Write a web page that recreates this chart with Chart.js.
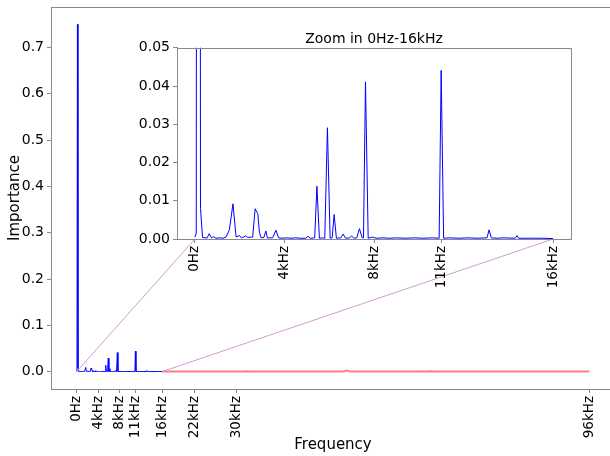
<!DOCTYPE html>
<html>
<head>
<meta charset="utf-8">
<script src="https://cdn.jsdelivr.net/npm/chart.js@4"></script>
<style>
  html, body { margin: 0; padding: 0; background: #fff; overflow: hidden; }
  #wrap { position: relative; width: 610px; height: 456px; overflow: hidden; }
  #wrap canvas { position: absolute; left: 0; top: 0; }
</style>
</head>
<body>
<div id="wrap">
  <canvas id="main" width="615" height="456"></canvas>
  <canvas id="inset" width="610" height="456"></canvas>
</div>
<script>
'use strict';

// ── Data ─────────────────────────────────────────────────────────────────────
// 0–16 kHz band (blue), frequency in kHz
const LOW_KHZ = [
  0.00, 0.06, 0.15, 0.25, 0.34, 0.45, 0.55, 0.64, 0.74, 0.84, 0.94, 1.10, 1.25, 1.39, 1.54, 1.70,
  1.84, 1.99, 2.07, 2.14, 2.26, 2.36, 2.50, 2.58, 2.69, 2.81, 2.88, 2.96, 3.08, 3.17, 3.24, 3.36,
  3.47, 3.62, 3.74, 3.90, 4.10, 4.30, 4.50, 4.70, 4.95, 5.05, 5.15, 5.35, 5.45, 5.56, 5.70, 5.80,
  5.92, 6.04, 6.13, 6.22, 6.32, 6.52, 6.62, 6.73, 6.90, 7.00, 7.10, 7.23, 7.35, 7.47, 7.53, 7.62,
  7.74, 7.94, 8.10, 8.40, 8.70, 9.00, 9.40, 9.80, 10.20, 10.60, 10.91, 11.00, 11.11, 11.40, 11.80, 12.20,
  12.60, 13.05, 13.14, 13.24, 13.50, 13.80, 14.31, 14.39, 14.46, 15.00, 15.50, 16.00];
const LOW_IMP = [
  0.0005, 0.0015, 0.75, 0.0080, 0.0004, 0.0003, 0.0003, 0.0014, 0.0003, 0.0006, 0.0002, 0.0003, 0.0002, 0.0005, 0.0024, 0.0092,
  0.0005, 0.0009, 0.0003, 0.0004, 0.0008, 0.0004, 0.0005, 0.0005, 0.0079, 0.0066, 0.0018, 0.0003, 0.0004, 0.0021, 0.0003, 0.0003,
  0.0003, 0.0023, 0.0003, 0.0002, 0.0003, 0.0002, 0.0003, 0.0002, 0.0002, 0.0007, 0.0002, 0.0003, 0.0138, 0.0002, 0.0003, 0.0002,
  0.0291, 0.0002, 0.0003, 0.0064, 0.0002, 0.0003, 0.0013, 0.0002, 0.0003, 0.0008, 0.0002, 0.0003, 0.0027, 0.0003, 0.0003, 0.0411,
  0.0002, 0.0005, 0.0002, 0.0003, 0.0002, 0.0003, 0.0002, 0.0003, 0.0002, 0.0003, 0.0002, 0.0441, 0.0002, 0.0003, 0.0002, 0.0003,
  0.0002, 0.0003, 0.0024, 0.0003, 0.0002, 0.0003, 0.0002, 0.0009, 0.0002, 0.0002, 0.0002, 0.0001];

// 16–96 kHz band (red)
const HIGH_KHZ = [16, 31.5, 32, 32.5, 50, 50.6, 51.2, 64, 64.5, 65, 66.5, 67, 96];
const HIGH_IMP = [0.0003, 0.0003, 0.0009, 0.0003, 0.0004, 0.0022, 0.0004, 0.0004, 0.0008, 0.0003, 0.0008, 0.0003, 0.0003];

const MAIN_X_TICKS  = [0, 4, 8, 11, 16, 22, 30, 96];
const MAIN_X_LABELS = ['0Hz', '4kHz', '8kHz', '11kHz', '16kHz', '22kHz', '30kHz', '96kHz'];
const MAIN_Y_TICKS  = [0, 0.1, 0.2, 0.3, 0.4, 0.5, 0.6, 0.7];

const INSET_X_TICKS  = [0, 4, 8, 11, 16];
const INSET_X_LABELS = ['0Hz', '4kHz', '8kHz', '11kHz', '16kHz'];
const INSET_Y_TICKS  = [0, 0.01, 0.02, 0.03, 0.04, 0.05];

const ZOOM_EDGES_KHZ = [0, 16];   // where the inset joins the main plot

// ── Helpers ──────────────────────────────────────────────────────────────────
const FONT   = 'DejaVu Sans';
const SPINE  = '#8a8a8a';
const pts = (xs, ys) => xs.map((x, i) => ({ x, y: ys[i] }));

function xAxis(min, max, ticks, labels, height, title) {
  return {
    type: 'linear', min, max,
    afterBuildTicks: s => { s.ticks = ticks.map(value => ({ value })); },
    afterFit: s => { s.height = height; s.paddingLeft = 0; s.paddingRight = 0; },
    ticks: {
      autoSkip: false, minRotation: 90, maxRotation: 90, padding: 3, color: '#000',
      font: { family: FONT, size: 13.5 },
      callback: (v, i) => labels[i],
    },
    grid: { display: true, drawOnChartArea: false, drawTicks: true, tickLength: 4, color: SPINE },
    border: { display: true, color: SPINE, width: 1 },
    title: title ? { display: true, text: title, color: '#000', font: { family: FONT, size: 15 }, padding: { top: 0, bottom: 2 } } : { display: false },
  };
}

function yAxis(min, max, ticks, digits, width, title) {
  return {
    type: 'linear', min, max,
    afterBuildTicks: s => { s.ticks = ticks.map(value => ({ value })); },
    afterFit: s => { s.width = width; s.paddingTop = 0; s.paddingBottom = 0; },
    ticks: {
      padding: 3, color: '#000', font: { family: FONT, size: 14 },
      callback: v => Number(v).toFixed(digits),
    },
    grid: { display: true, drawOnChartArea: false, drawTicks: true, tickLength: 4, color: SPINE },
    border: { display: true, color: SPINE, width: 1 },
    title: title ? { display: true, text: title, color: '#000', font: { family: FONT, size: 15 }, padding: { top: 6, bottom: 0 } } : { display: false },
  };
}

// full box around the plot area (top/right spines)
const boxPlugin = {
  id: 'box',
  beforeDraw(chart, args, opts) {
    const { ctx, chartArea: a } = chart;
    ctx.save();
    if (opts.fill) { ctx.fillStyle = opts.fill; ctx.fillRect(a.left, a.top, a.right - a.left, a.bottom - a.top); }
    ctx.restore();
  },
  afterDraw(chart) {
    const { ctx, chartArea: a } = chart;
    ctx.save();
    ctx.strokeStyle = SPINE; ctx.lineWidth = 1;
    ctx.strokeRect(Math.round(a.left) + 0.5, Math.round(a.top) + 0.5, Math.round(a.right - a.left), Math.round(a.bottom - a.top));
    ctx.restore();
  },
};

const blueSet = data => ({ data, borderColor: '#0000ff', borderWidth: 1, pointRadius: 0, tension: 0, fill: false });

// ── Main chart ───────────────────────────────────────────────────────────────
const mainChart = new Chart(document.getElementById('main'), {
  type: 'line',
  data: {
    datasets: [
      blueSet(pts(LOW_KHZ, LOW_IMP)),
      { data: pts(HIGH_KHZ, HIGH_IMP), borderColor: 'rgba(255,40,40,0.6)', borderWidth: 2, pointRadius: 0, tension: 0, fill: false },
    ],
  },
  options: {
    responsive: false, animation: false, devicePixelRatio: 1,
    layout: { padding: { left: 0, top: 7, right: 0, bottom: 0 } },
    plugins: { legend: { display: false }, tooltip: { enabled: false }, box: {} },
    scales: {
      x: xAxis(-4.8, 100.8, MAIN_X_TICKS, MAIN_X_LABELS, 67, 'Frequency'),
      y: yAxis(-0.0375, 0.7875, MAIN_Y_TICKS, 1, 51, 'Importance'),
    },
  },
  plugins: [boxPlugin],
});

// ── Inset + connector lines ──────────────────────────────────────────────────
const connectorPlugin = {
  id: 'connectors',
  beforeDraw(chart) {
    const m = mainChart.scales, s = chart.scales, ctx = chart.ctx;
    ctx.save();
    ctx.strokeStyle = '#d39ad3'; ctx.lineWidth = 1;
    ZOOM_EDGES_KHZ.forEach(f => {
      ctx.beginPath();
      ctx.moveTo(m.x.getPixelForValue(f), m.y.getPixelForValue(0));
      ctx.lineTo(s.x.getPixelForValue(f), s.y.getPixelForValue(0));
      ctx.stroke();
    });
    ctx.restore();
  },
};

new Chart(document.getElementById('inset'), {
  type: 'line',
  data: { datasets: [blueSet(pts(LOW_KHZ, LOW_IMP))] },
  options: {
    responsive: false, animation: false, devicePixelRatio: 1,
    layout: { padding: { left: 132, top: 27, right: 39, bottom: 167 } },
    plugins: {
      legend: { display: false }, tooltip: { enabled: false },
      box: { fill: '#fff' },
      title: {
        display: true, fullSize: false, text: 'Zoom in 0Hz-16kHz', color: '#000',
        font: { family: FONT, size: 14, weight: 'normal' }, padding: { top: 4, bottom: 0 },
      },
    },
    scales: {
      x: xAxis(-0.8, 16.8, INSET_X_TICKS, INSET_X_LABELS, 50, null),
      y: yAxis(0, 0.05, INSET_Y_TICKS, 2, 45, null),
    },
  },
  plugins: [connectorPlugin, boxPlugin],
});
</script>
</body>
</html>
